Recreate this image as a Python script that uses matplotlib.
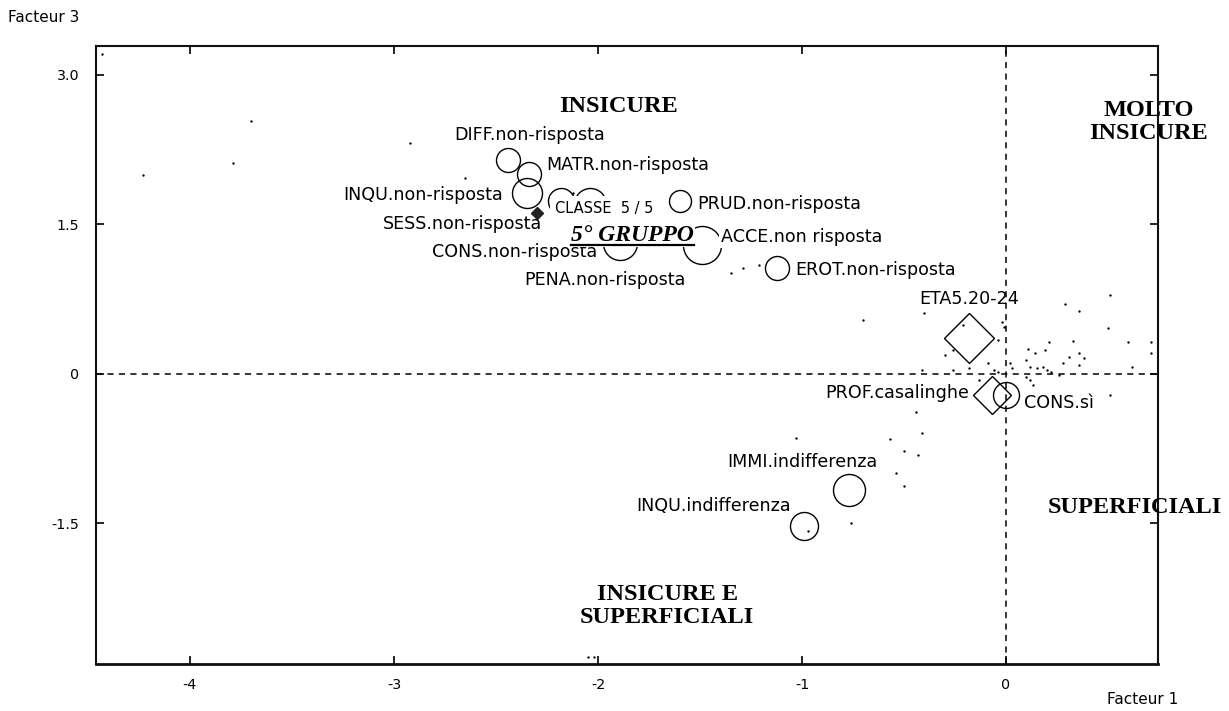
import matplotlib
matplotlib.use("Agg")
import matplotlib.pyplot as plt
from matplotlib.lines import Line2D
from matplotlib.transforms import IdentityTransform

# ---------------- data ----------------
circle_names = ["DIFF.non-risposta", "MATR.non-risposta", "INQU.non-risposta",
                "SESS.non-risposta", "PENA.non-risposta", "PRUD.non-risposta",
                "CONS.non-risposta", "ACCE.non risposta", "EROT.non-risposta",
                "CONS.sì", "IMMI.indifferenza", "INQU.indifferenza"]
circle_x = [-2.44, -2.34, -2.35, -2.18, -2.04, -1.60, -1.89, -1.49, -1.12, 0.00, -0.77, -0.99]
circle_y = [2.15, 2.01, 1.82, 1.73, 1.70, 1.73, 1.31, 1.29, 1.06, -0.21, -1.16, -1.53]

diamond_names = ["ETA5.20-24", "PROF.casalinghe"]
diamond_x = [-0.18, -0.07]
diamond_y = [0.36, -0.21]

class_name = "CLASSE  5 / 5"
class_x = [-2.30]
class_y = [1.61]

dot_x = [-4.43, -4.23, -3.70, -3.79, -2.92, -2.65, -2.12, -1.35, -1.29, -1.21,
         0.51, 0.29, 0.36, -0.40, -0.70, 0.50, -0.02, -0.01, -0.21, -0.04,
         0.21, 0.33, 0.60, 0.71, 0.71, -0.26, -0.30, 0.11, 0.14, 0.19,
         0.36, 0.38, 0.31, 0.28, 0.36, 0.62, -0.18, -0.09, 0.02, 0.03,
         0.10, 0.12, 0.15, 0.18, 0.20, 0.22, 0.26, -0.41, -0.26, -0.06,
         -0.04, 0.10, 0.12, 0.13, -0.13, 0.51, -0.44, -0.41, -1.03, -0.57,
         -0.50, -0.43, -0.54, -0.50, -0.76, -0.97, -2.05, -2.02]
dot_y = [3.21, 2.00, 2.54, 2.12, 2.32, 1.97, 1.82, 1.01, 1.06, 1.09,
         0.79, 0.70, 0.63, 0.61, 0.54, 0.46, 0.52, 0.47, 0.49, 0.34,
         0.32, 0.33, 0.32, 0.32, 0.21, 0.24, 0.19, 0.25, 0.21, 0.24,
         0.21, 0.16, 0.17, 0.11, 0.09, 0.07, 0.06, 0.11, 0.11, 0.06,
         0.14, 0.07, 0.06, 0.07, 0.04, 0.02, -0.01, 0.04, 0.04, 0.04,
         0.02, -0.03, -0.06, -0.11, -0.06, -0.21, -0.38, -0.59, -0.64, -0.65,
         -0.77, -0.81, -0.99, -1.12, -1.50, -1.58, -2.84, -2.84]

x_ticks = [-4, -3, -2, -1, 0]
x_tick_labels = ["-4", "-3", "-2", "-1", "0"]
y_ticks = [-1.5, 0, 1.5, 3.0]
y_tick_labels = ["-1.5", "0", "1.5", "3.0"]

zone_labels = ["INSICURE", "MOLTO\nINSICURE", "SUPERFICIALI", "INSICURE E\nSUPERFICIALI"]
zone_x = [-1.90, 0.70, 0.63, -1.66]
zone_y = [2.68, 2.53, -1.34, -2.33]

# ---------------- layout / style ----------------
circle_r_px = [12, 12, 15, 13, 16, 11, 17, 19, 12, 13, 16, 14]
circle_off = [(21, 25, "center"), (18, 9, "left"), (-24, -2, "right"),
              (-19, -23, "right"), (15, -76, "center"), (18, -3, "left"),
              (-23, -9, "right"), (19, 8, "left"), (18, -2, "left"),
              (18, -8, "left"), (-47, 28, "center"), (-13, 20, "right")]
circle_label_bg = [False, False, False, False, False, False,
                   False, True, False, False, False, False]
diamond_half_px = [25, 19]
diamond_off = [(0, 39, "center"), (-23, 2, "right")]

PX2PT = 0.72
SANS = "DejaVu Sans"
SERIF = "Liberation Serif"
LABEL_FS = 12.6
WHITE_BOX = dict(boxstyle="square,pad=0.12", fc="white", ec="none")

fig = plt.figure(figsize=(12.29, 7.11), dpi=100)
ax = fig.add_axes([96 / 1229, 1 - 664 / 711, (1158 - 96) / 1229, (664 - 46) / 711])
ax.set_xlim(-4.46, 0.745)
ax.set_ylim(-2.91, 3.29)

# dashed axes
ax.axvline(0, color="black", lw=1.1, ls=(0, (4, 3.5)), zorder=1)
ax.axhline(0, color="black", lw=1.1, ls=(0, (4, 3.5)), zorder=1)

# dots
ax.plot(dot_x, dot_y, ls="none", marker="o", ms=1.7, mfc="black", mec="black", mew=0, zorder=2)

# circles
for i in range(len(circle_x)):
    ms = 2 * circle_r_px[i] * PX2PT
    ax.plot([circle_x[i]], [circle_y[i]], ls="none", marker="o", ms=ms,
            mfc="none", mec="black", mew=1.0, zorder=3)
    dx, dy, ha = circle_off[i]
    ax.annotate(circle_names[i], (circle_x[i], circle_y[i]), xytext=(dx, dy),
                textcoords="offset pixels", ha=ha, va="center",
                fontsize=LABEL_FS, family=SANS, color="black", zorder=5,
                bbox=WHITE_BOX if circle_label_bg[i] else None)

# diamonds
for i in range(len(diamond_x)):
    ms = diamond_half_px[i] * PX2PT / 0.7071
    ax.plot([diamond_x[i]], [diamond_y[i]], ls="none", marker="D", ms=ms,
            mfc="none", mec="black", mew=1.0, zorder=3)
    dx, dy, ha = diamond_off[i]
    ax.annotate(diamond_names[i], (diamond_x[i], diamond_y[i]), xytext=(dx, dy),
                textcoords="offset pixels", ha=ha, va="center",
                fontsize=LABEL_FS, family=SANS, color="black", zorder=5)

# class centroid
ax.plot(class_x, class_y, ls="none", marker="D", ms=6, mfc="#222222", mec="#222222", zorder=4)
ax.annotate(class_name, (class_x[0], class_y[0]), xytext=(18, 5),
            textcoords="offset pixels", ha="left", va="center",
            fontsize=10.5, family=SANS, color="black", zorder=5,
            bbox=dict(boxstyle="square,pad=0.35", fc="white", ec="none"))

# zone labels
for lab, zx, zy in zip(zone_labels, zone_x, zone_y):
    ax.text(zx, zy, lab, ha="center", va="center", fontsize=17.5, family=SERIF,
            fontweight="bold", linespacing=1.12, clip_on=False, zorder=6)

grp = ax.text(-1.83, 1.39, "5° GRUPPO", ha="center", va="center", fontsize=17,
              family=SERIF, fontweight="bold", fontstyle="italic", zorder=6,
              bbox=dict(boxstyle="square,pad=0.05", fc="white", ec="none"))

# ticks
ax.set_xticks(x_ticks)
ax.set_xticklabels(x_tick_labels)
ax.set_yticks(y_ticks)
ax.set_yticklabels(y_tick_labels)
ax.tick_params(direction="in", length=6, width=1.2, top=True, right=True,
               labelsize=10.3, colors="black")
ax.tick_params(axis="x", pad=10)
ax.tick_params(axis="y", pad=12)
for lab in ax.get_xticklabels() + ax.get_yticklabels():
    lab.set_family(SANS)
for s in ax.spines.values():
    s.set_linewidth(1.5)
    s.set_color("#111111")
ax.spines["bottom"].set_linewidth(2.0)

fig.text(8 / 1229, 1 - 18 / 711, "Facteur 3", ha="left", va="center", fontsize=11, family=SANS)
fig.text(1107 / 1229, 1 - 700 / 711, "Facteur 1", ha="left", va="center", fontsize=11, family=SANS)

# underline for 5° GRUPPO
fig.canvas.draw()
bb = grp.get_window_extent()
fig.add_artist(Line2D([bb.x0, bb.x1], [bb.y0 + 1, bb.y0 + 1], transform=IdentityTransform(),
                      color="black", lw=1.6, zorder=7))

fig.savefig("out.png", dpi=100)
